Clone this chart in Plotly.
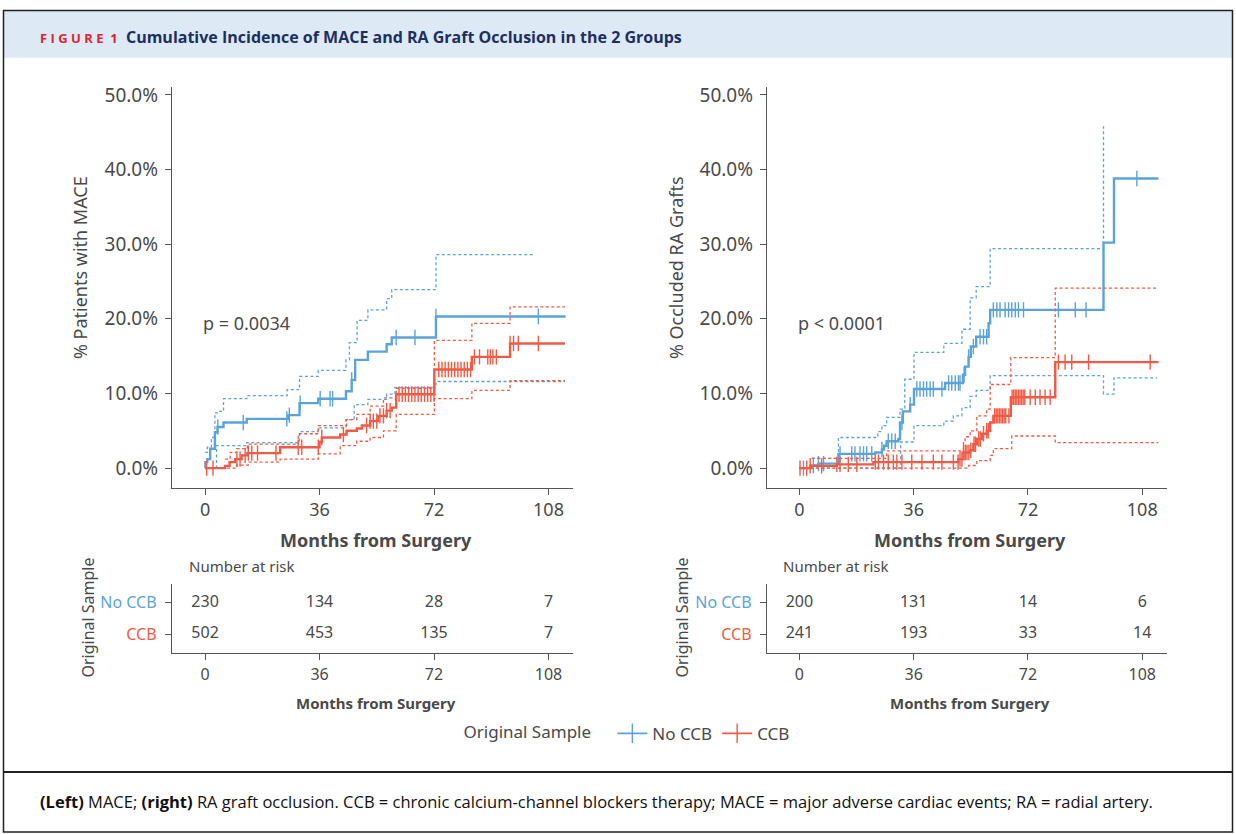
import numpy as np
import plotly.graph_objects as go

# ---------------- DATA ----------------
months_ticks = [0, 36, 72, 108]
pct_ticks = [0, 10, 20, 30, 40, 50]
pct_labels = ["0.0%", "10.0%", "20.0%", "30.0%", "40.0%", "50.0%"]
groups = ["No CCB", "CCB"]

# Left panel: MACE
mace_noccb_t = [0, 0.1, 0.7, 1.6, 3.1, 3.9, 5.8, 13.1, 26.2, 29.7, 35.6, 44.3, 46.1, 47.2, 51.2, 57.1, 58.7, 72.6, 113.4]
mace_noccb_s = [0, 0.8, 1.2, 2.6, 4.8, 5.5, 6.1, 6.6, 7.1, 8.7, 9.3, 10.3, 11.8, 14.5, 15.6, 16.6, 17.5, 20.3, 20.3]
mace_noccb_up_t = [0, 0.7, 2.0, 3.1, 3.9, 5.8, 13.1, 25.8, 29.7, 35.6, 44.3, 45.4, 47.8, 51.2, 57.1, 58.7, 72.6, 103.5]
mace_noccb_up_s = [2.1, 2.8, 4.1, 7.4, 7.6, 9.3, 9.7, 10.5, 12.3, 13.1, 14.5, 16.8, 19.8, 21.2, 22.7, 23.9, 28.6, 28.6]
mace_noccb_lo_t = [0, 3.6, 13.1, 29.7, 35.6, 44.3, 46.9, 51.2, 57.1, 59.7, 72.6, 113.2]
mace_noccb_lo_s = [0, 3.0, 3.4, 4.9, 5.4, 6.5, 8.5, 9.2, 9.9, 10.8, 11.6, 11.6]
mace_noccb_cens = [4.0, 12.0, 25.7, 26.5, 29.9, 36.2, 39.3, 40.1, 46.1, 60.1, 66.0, 72.6, 104.8]

mace_ccb_t = [0, 6.3, 7.7, 9.4, 11.5, 13.3, 23.6, 36.0, 36.7, 42.5, 44.5, 47.7, 49.3, 51.9, 54.5, 57.1, 58.7, 60.1, 72.1, 83.9, 95.9, 113.2]
mace_ccb_s = [0, 0.3, 0.8, 1.2, 1.7, 2.0, 2.8, 3.5, 4.1, 4.5, 5.0, 5.3, 5.7, 6.3, 7.0, 7.7, 8.1, 9.9, 13.2, 14.9, 16.7, 16.7]
mace_ccb_up_t = [6.3, 7.9, 10.0, 13.3, 29.3, 35.6, 44.5, 47.7, 51.9, 56.1, 60.1, 72.1, 83.9, 95.9, 113.2]
mace_ccb_up_s = [1.2, 2.1, 2.6, 3.2, 4.6, 5.7, 6.5, 7.2, 8.3, 9.4, 10.7, 17.1, 19.4, 21.6, 21.6]
mace_ccb_lo_t = [0, 10.0, 13.6, 23.6, 35.6, 42.5, 47.7, 51.9, 56.1, 60.1, 72.1, 83.9, 95.9, 113.2]
mace_ccb_lo_s = [0, 0.4, 0.8, 1.2, 1.9, 3.0, 3.6, 4.1, 5.0, 7.2, 9.3, 10.4, 11.7, 11.7]
mace_ccb_cens = [0.5, 2.5, 10.0, 11.0, 12.6, 13.6, 14.7, 16.5, 22.3, 29.3, 30.4, 35.6, 36.7, 43.5,
                 50.8, 51.9, 52.9, 54.0, 55.0, 56.1, 57.1, 58.2,
                 61.0, 62.0, 63.0, 64.0, 65.0, 66.0, 67.0, 68.0, 69.0, 70.0, 71.0, 72.0,
                 73.5, 74.5, 75.5, 76.5, 77.5, 78.5, 79.5, 80.5, 81.5, 82.5, 83.5,
                 84.7, 86.3, 88.9, 89.7, 90.5, 91.6, 95.9, 97.0, 98.5, 104.8]

# Right panel: RA graft occlusion
ra_noccb_t = [0, 3.9, 6.0, 12.3, 23.9, 26.0, 26.7, 27.5, 31.2, 31.7, 32.6, 34.9, 36.1, 45.9, 51.5, 52.2, 53.3, 54.0, 55.7, 59.6, 60.1, 95.8, 99.1, 113.1]
ra_noccb_s = [0, 0.35, 0.6, 1.9, 2.1, 2.5, 3.0, 3.6, 3.9, 6.1, 7.6, 8.5, 10.6, 11.4, 12.5, 13.6, 14.9, 16.3, 17.6, 19.4, 21.2, 30.2, 38.8, 38.8]
ra_noccb_up_t = [3.9, 12.3, 24.7, 26.0, 27.5, 31.7, 33.2, 36.1, 45.5, 51.2, 53.8, 55.7, 60.1, 95.8]
ra_noccb_up_s = [1.3, 4.1, 4.9, 5.7, 6.8, 7.9, 11.9, 15.5, 16.7, 18.6, 22.8, 24.3, 29.4, 45.8]
ra_noccb_lo_t = [0, 31.9, 36.1, 45.5, 48.5, 51.2, 53.8, 55.7, 60.1, 95.8, 99.1, 112.7]
ra_noccb_lo_s = [0, 3.5, 5.7, 6.3, 7.0, 8.1, 9.6, 10.4, 12.4, 9.9, 12.1, 12.1]
ra_noccb_cens = [1.3, 4.4, 6.0, 7.6, 12.8, 16.5, 17.5, 19.1, 20.2, 21.2, 22.8, 26.0, 28.0, 29.1, 30.2, 32.3, 34.9,
                 37.0, 38.0, 39.1, 40.1, 41.2, 42.2, 44.9, 47.0, 48.0, 49.1, 50.1, 50.6, 51.9, 53.3, 54.8,
                 56.9, 58.0, 59.0, 61.1, 62.2, 63.2, 64.8, 65.9, 66.9, 68.0, 69.0, 70.6, 81.6, 86.9, 90.3, 106.3]

ra_ccb_t = [0, 3.4, 11.8, 23.3, 50.1, 51.7, 53.8, 54.8, 55.9, 57.5, 59.0, 60.1, 61.1, 66.6, 80.6, 113.1]
ra_ccb_s = [0, 0.3, 0.5, 0.8, 1.2, 2.1, 2.4, 3.2, 3.9, 4.6, 5.0, 6.1, 7.0, 9.5, 14.2, 14.2]
ra_ccb_up_t = [3.9, 27.5, 51.7, 52.2, 53.8, 55.9, 59.0, 60.1, 66.6, 80.6, 113.1]
ra_ccb_up_s = [1.3, 2.3, 3.4, 4.2, 5.0, 7.0, 7.9, 11.2, 14.8, 24.1, 24.1]
ra_ccb_lo_t = [0, 53.3, 55.9, 60.1, 61.1, 66.9, 80.6, 113.1]
ra_ccb_lo_s = [0, 0.35, 1.0, 1.7, 2.6, 4.3, 3.4, 3.4]
ra_ccb_cens = [0.2, 2.3, 3.4, 7.0, 11.8, 12.8, 15.4, 18.1, 23.9, 24.9, 26.5, 28.0, 29.6, 30.7, 32.3, 35.4, 38.6,
               42.2, 44.9, 48.5, 50.0, 50.6, 51.2, 51.7, 52.3, 52.8, 53.4, 54.0, 55.0, 55.5, 56.5, 57.0,
               58.0, 59.0, 59.5, 61.5, 62.0, 62.5, 63.0, 63.5, 64.0, 64.5, 65.0, 66.0, 67.0, 67.5, 68.0,
               68.5, 69.0, 69.5, 70.0, 70.5, 71.0, 72.7, 74.3, 75.8, 77.4, 79.0, 81.6, 83.7, 85.8, 91.1, 110.5]

# Numbers at risk
risk_mace_noccb = [230, 134, 28, 7]
risk_mace_ccb = [502, 453, 135, 7]
risk_ra_noccb = [200, 131, 14, 6]
risk_ra_ccb = [241, 193, 33, 14]

p_left = "p = 0.0034"
p_right = "p < 0.0001"

# ---------------- STYLE ----------------
W, H = 1236, 834
BLUE = "#5BA4DB"
RED = "#F15B45"
TXT = "#4a4a4a"
AX = "#555555"
FONT = "Noto Sans, Open Sans, sans-serif"
HFONT = "Open Sans, Noto Sans, sans-serif"


def px_x(p):
    return p / W


def px_y(p):
    return 1 - p / H


def step_val(t, s, x):
    t = np.asarray(t)
    s = np.asarray(s)
    idx = np.searchsorted(t, np.asarray(x), side="right") - 1
    idx = np.clip(idx, 0, len(s) - 1)
    return s[idx]


fig = go.Figure()


def add_panel(xa, ya, main_t, main_s, up_t, up_s, lo_t, lo_s, cens, color):
    for tt, ss in [(up_t, up_s), (lo_t, lo_s)]:
        fig.add_trace(go.Scatter(x=tt, y=ss, mode="lines", line=dict(color=color, width=1.3, dash="3px,2.5px", shape="hv"),
                                 xaxis=xa, yaxis=ya, showlegend=False, hoverinfo="skip"))
    fig.add_trace(go.Scatter(x=main_t, y=main_s, mode="lines", line=dict(color=color, width=2.4, shape="hv"),
                             xaxis=xa, yaxis=ya, showlegend=False))
    fig.add_trace(go.Scatter(x=cens, y=step_val(main_t, main_s, cens), mode="markers",
                             marker=dict(symbol="line-ns-open", size=11, color=color, line=dict(color=color, width=1.4)),
                             xaxis=xa, yaxis=ya, showlegend=False))


add_panel("x", "y", mace_noccb_t, mace_noccb_s, mace_noccb_up_t, mace_noccb_up_s, mace_noccb_lo_t, mace_noccb_lo_s, mace_noccb_cens, BLUE)
add_panel("x", "y", mace_ccb_t, mace_ccb_s, mace_ccb_up_t, mace_ccb_up_s, mace_ccb_lo_t, mace_ccb_lo_s, mace_ccb_cens, RED)
add_panel("x2", "y2", ra_noccb_t, ra_noccb_s, ra_noccb_up_t, ra_noccb_up_s, ra_noccb_lo_t, ra_noccb_lo_s, ra_noccb_cens, BLUE)
add_panel("x2", "y2", ra_ccb_t, ra_ccb_s, ra_ccb_up_t, ra_ccb_up_s, ra_ccb_lo_t, ra_ccb_lo_s, ra_ccb_cens, RED)

# risk tables
for xa, ya, rn, rc in [("x3", "y3", risk_mace_noccb, risk_mace_ccb), ("x4", "y4", risk_ra_noccb, risk_ra_ccb)]:
    fig.add_trace(go.Scatter(x=months_ticks, y=[1] * 4, mode="text", text=[str(v) for v in rn],
                             textfont=dict(family=FONT, size=16, color=TXT), xaxis=xa, yaxis=ya, showlegend=False))
    fig.add_trace(go.Scatter(x=months_ticks, y=[0] * 4, mode="text", text=[str(v) for v in rc],
                             textfont=dict(family=FONT, size=16, color=TXT), xaxis=xa, yaxis=ya, showlegend=False))

# legend entries
for name, color in zip(groups, [BLUE, RED]):
    fig.add_trace(go.Scatter(x=[None], y=[None], mode="lines+markers", name=name,
                             line=dict(color=color, width=1.8),
                             marker=dict(symbol="line-ns-open", size=14, color=color, line=dict(color=color, width=1.4)),
                             xaxis="x", yaxis="y"))

axis_common = dict(showline=True, linecolor=AX, linewidth=1.3, ticks="outside", ticklen=6, tickwidth=1.3,
                   tickcolor=AX, showgrid=False, zeroline=False, fixedrange=True)

km_y_dom = [px_y(485), px_y(82)]
rk_y_dom = [px_y(652), px_y(582)]
left_dom = [px_x(172), px_x(573)]
right_dom = [px_x(767), px_x(1167)]

risk_ticktext = [f'<span style="color:{RED}">CCB</span>', f'<span style="color:{BLUE}">No CCB</span>']

layout = dict(
    width=W, height=H, margin=dict(l=0, r=0, t=0, b=0), autosize=False,
    paper_bgcolor="white", plot_bgcolor="white",
    font=dict(family=FONT, color=TXT),
    xaxis=dict(domain=left_dom, range=[-10.4, 115.7], anchor="y", tickvals=months_ticks,
               tickfont=dict(size=18, color=TXT), **axis_common),
    yaxis=dict(domain=km_y_dom, range=[-2.6, 51], anchor="x", tickvals=pct_ticks, ticktext=pct_labels,
               tickfont=dict(size=19, color=TXT), ticklabelstandoff=3, **axis_common),
    xaxis2=dict(domain=right_dom, range=[-10.2, 115.8], anchor="y2", tickvals=months_ticks,
                tickfont=dict(size=18, color=TXT), **axis_common),
    yaxis2=dict(domain=km_y_dom, range=[-2.6, 51], anchor="x2", tickvals=pct_ticks, ticktext=pct_labels,
                tickfont=dict(size=19, color=TXT), ticklabelstandoff=3, **axis_common),
    xaxis3=dict(domain=left_dom, range=[-10.4, 115.7], anchor="y3", tickvals=months_ticks,
                tickfont=dict(size=16, color=TXT), **axis_common),
    yaxis3=dict(domain=rk_y_dom, range=[-0.6, 1.6], anchor="x3", tickvals=[0, 1], ticktext=risk_ticktext,
                tickfont=dict(size=16), ticklabelstandoff=5, **axis_common),
    xaxis4=dict(domain=right_dom, range=[-10.2, 115.8], anchor="y4", tickvals=months_ticks,
                tickfont=dict(size=16, color=TXT), **axis_common),
    yaxis4=dict(domain=rk_y_dom, range=[-0.6, 1.6], anchor="x4", tickvals=[0, 1], ticktext=risk_ticktext,
                tickfont=dict(size=16), ticklabelstandoff=5, **axis_common),
    showlegend=True,
    legend=dict(orientation="h", x=px_x(628), xanchor="center", y=px_y(733), yanchor="middle",
                title=dict(text="Original Sample   ", font=dict(size=17, color=TXT)),
                font=dict(size=17, color=TXT), bgcolor="rgba(0,0,0,0)", itemwidth=30, tracegroupgap=0),
)
fig.update_layout(**layout)

# frame, header band and caption separator
shapes = [
    dict(type="rect", xref="paper", yref="paper", x0=px_x(4), x1=px_x(1232), y0=px_y(52), y1=px_y(5),
         fillcolor="#DDE9F5", line=dict(width=0), layer="below"),
    dict(type="rect", xref="paper", yref="paper", x0=px_x(3.5), x1=px_x(1232.5), y0=px_y(832), y1=px_y(4.5),
         line=dict(color="#222", width=1.5), fillcolor="rgba(0,0,0,0)"),
    dict(type="line", xref="paper", yref="paper", x0=px_x(3.5), x1=px_x(1232.5), y0=px_y(771.5), y1=px_y(771.5),
         line=dict(color="#222", width=2)),
]
fig.update_layout(shapes=shapes)

ann = []
ann.append(dict(x=px_x(38), y=px_y(31), xref="paper", yref="paper", xanchor="left", yanchor="middle", showarrow=False,
                text=f'<b><span style="color:#E3232C;font-size:13px">F I G U R E  1</span></b>  '
                     f'<b><span style="color:#1C2F5E">Cumulative Incidence of MACE and RA Graft Occlusion in the 2 Groups</span></b>',
                font=dict(family=HFONT, size=16)))
# y titles
for xp, txt in [(80, "% Patients with MACE"), (676, "% Occluded RA Grafts")]:
    ann.append(dict(x=px_x(xp), y=px_y(264), xref="paper", yref="paper", textangle=-90, showarrow=False,
                    text=txt, font=dict(size=18, color=TXT), xanchor="center", yanchor="middle"))
# x titles
for xp in [376, 970]:
    ann.append(dict(x=px_x(xp), y=px_y(538), xref="paper", yref="paper", showarrow=False,
                    text="<b>Months from Surgery</b>", font=dict(size=18, color=TXT), xanchor="center", yanchor="middle"))
    ann.append(dict(x=px_x(xp), y=px_y(702), xref="paper", yref="paper", showarrow=False,
                    text="<b>Months from Surgery</b>", font=dict(size=15, color=TXT), xanchor="center", yanchor="middle"))
# p-values
for xp, txt in [(201, p_left), (796, p_right)]:
    ann.append(dict(x=px_x(xp), y=px_y(319), xref="paper", yref="paper", showarrow=False, text=txt,
                    font=dict(size=18, color=TXT), xanchor="left", yanchor="middle"))
# number at risk + original sample
for xp, xo in [(187, 88), (781, 682)]:
    ann.append(dict(x=px_x(xp), y=px_y(564), xref="paper", yref="paper", showarrow=False, text="Number at risk",
                    font=dict(size=15, color=TXT), xanchor="left", yanchor="middle"))
    ann.append(dict(x=px_x(xo), y=px_y(616), xref="paper", yref="paper", showarrow=False, text="Original Sample",
                    textangle=-90, font=dict(size=16, color=TXT), xanchor="center", yanchor="middle"))
# caption
ann.append(dict(x=px_x(38), y=px_y(801), xref="paper", yref="paper", xanchor="left", yanchor="middle", showarrow=False,
                text="<b>(Left)</b> MACE; <b>(right)</b> RA graft occlusion. CCB = chronic calcium-channel blockers therapy; "
                     "MACE = major adverse cardiac events; RA = radial artery.",
                font=dict(family=HFONT, size=16.5, color="#111")))
fig.update_layout(annotations=ann)

fig.write_html("out.html", config={"displayModeBar": False},
               post_script="document.body.style.margin='0px';document.body.style.overflow='hidden';")
